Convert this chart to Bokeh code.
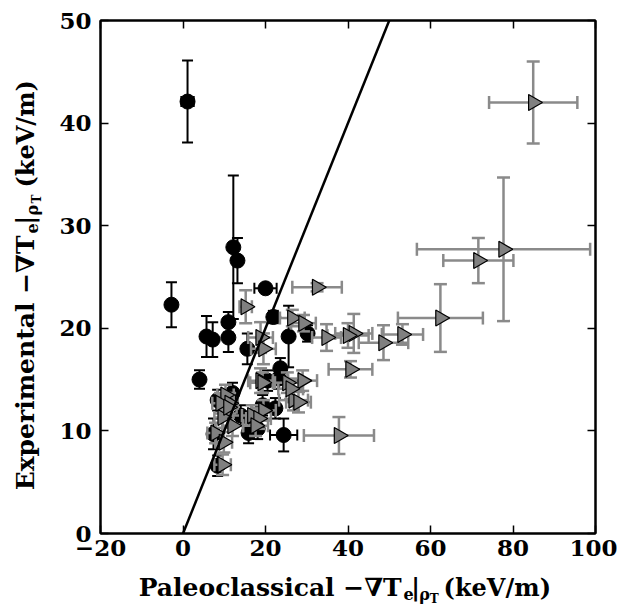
import numpy as np
from bokeh.plotting import figure
from bokeh.models import FixedTicker, LinearAxis, Range1d
from bokeh.layouts import row, column
from bokeh.core.properties import value
from bokeh.embed import file_html
from bokeh.resources import INLINE

# ---------------- data ----------------
x_ticks = [-20, 0, 20, 40, 60, 80, 100]
x_tick_labels = ["\u221220", "0", "20", "40", "60", "80", "100"]
y_ticks = [0, 10, 20, 30, 40, 50]
y_tick_labels = ["0", "10", "20", "30", "40", "50"]

# black circles
circ_x = [1.1, 12.2, 13.2, 20.0, -2.8, 5.7, 7.2, 11.0, 11.0, 21.9, 25.6, 30.2,
          4.0, 15.6, 23.6, 20.5, 12.0, 8.4, 7.4, 15.9, 24.4, 8.4, 18.1, 19.3,
          22.4, 14.0, 23.2]
circ_y = [42.1, 27.9, 26.6, 23.9, 22.3, 19.2, 18.9, 20.6, 19.1, 21.1, 19.2, 19.5,
          15.0, 18.0, 16.1, 14.9, 13.7, 13.0, 9.7, 9.8, 9.6, 6.6, 10.2, 12.5,
          12.2, 11.5, 15.1]
circ_xerr = [1.5, 0, 0, 2.7, 0, 0, 0, 0, 0, 0, 0, 0,
             0, 0, 0, 0, 0, 0, 0, 0, 3.3, 0, 0, 0,
             0, 0, 0]
circ_yerr = [4.0, 7.0, 2.2, 0.4, 2.2, 2.0, 1.7, 1.0, 1.4, 0.6, 3.0, 0.8,
             0.9, 1.5, 1.0, 1.0, 1.0, 1.0, 1.5, 1.0, 1.6, 1.0, 1.0, 1.0,
             1.0, 1.0, 1.0]

# grey right-pointing triangles
tri_x = [84.9, 77.7, 71.6, 32.5, 15.2, 26.5, 29.2, 62.4, 53.2, 48.6, 41.4, 40.0,
         34.8, 18.8, 19.5, 40.6, 18.8, 25.3, 29.0, 26.8, 26.1, 28.0, 37.8,
         10.3, 11.3, 9.6, 12.0, 7.9, 9.9, 9.6, 16.8, 19.5, 19.3, 18.3, 17.6,
         9.1, 11.0]
tri_y = [42.0, 27.7, 26.6, 24.0, 22.1, 21.0, 20.5, 21.0, 19.4, 18.6, 19.5, 19.3,
         19.1, 19.1, 18.0, 16.0, 14.9, 14.7, 14.9, 13.0, 14.1, 12.8, 9.55,
         13.5, 12.7, 11.3, 10.5, 9.8, 8.9, 6.7, 11.5, 12.0, 14.7, 11.2, 10.5,
         12.7, 12.3]
tri_xerr = [10.7, 21.0, 8.5, 6.0, 1.5, 3.0, 3.0, 10.3, 5.0, 6.0, 4.5, 5.0,
            3.5, 3.0, 3.0, 5.3, 3.0, 3.5, 3.5, 3.5, 3.0, 3.0, 8.5,
            2.0, 2.0, 2.0, 2.5, 2.0, 2.0, 2.0, 2.5, 3.0, 3.0, 3.0, 3.0,
            2.0, 2.0]
tri_yerr = [4.0, 7.0, 2.2, 0.4, 1.6, 0.8, 0.8, 3.3, 1.0, 1.7, 1.9, 1.2,
            1.3, 1.5, 1.5, 0.8, 1.2, 1.0, 1.0, 1.0, 1.0, 1.0, 1.8,
            1.0, 1.0, 1.0, 1.0, 1.0, 1.0, 1.0, 1.0, 1.0, 1.0, 1.0, 1.0,
            1.0, 1.0]

# y = x reference line
ref_line = [0, 50]

# axis title pieces
x_title = ["Paleoclassical \u2212\u2207T", "e", "|", "\u03c1", "T", "(keV/m)"]
y_title = ["Experimental \u2212\u2207T", "e", "|", "\u03c1", "T", "(keV/m)"]

FONT = "DejaVu Serif"

# ---------------- main figure ----------------
p = figure(width=567, height=569, x_range=Range1d(-20, 100), y_range=Range1d(0, 50),
           output_backend="svg", toolbar_location=None,
           min_border_left=50, min_border_right=22, min_border_top=20,
           min_border_bottom=36, background_fill_color="white",
           border_fill_color="white")
p.grid.visible = False
p.outline_line_color = "black"
p.outline_line_width = 2


def style_axis(ax, show_labels=True, standoff=8):
    ax.major_tick_in = 8
    ax.major_tick_out = 0
    ax.minor_tick_line_color = None
    ax.major_tick_line_width = 1.5
    ax.major_tick_line_color = "black"
    ax.axis_line_width = 2
    ax.axis_line_color = "black"
    if show_labels:
        ax.major_label_text_font = FONT
        ax.major_label_text_font_style = "bold"
        ax.major_label_text_font_size = "23px"
        ax.major_label_text_color = "black"
        ax.major_label_standoff = standoff
    else:
        ax.major_label_text_font_size = "0px"
        ax.major_label_standoff = 0


style_axis(p.xaxis[0], True, 6)
style_axis(p.yaxis[0], True, 9)
p.xaxis[0].ticker = FixedTicker(ticks=x_ticks)
p.yaxis[0].ticker = FixedTicker(ticks=y_ticks)
p.xaxis[0].major_label_overrides = {t: s for t, s in zip(x_ticks, x_tick_labels)}
p.yaxis[0].major_label_overrides = {t: s for t, s in zip(y_ticks, y_tick_labels)}

top_ax = LinearAxis(ticker=FixedTicker(ticks=x_ticks))
right_ax = LinearAxis(ticker=FixedTicker(ticks=y_ticks))
style_axis(top_ax, False)
style_axis(right_ax, False)
top_ax.major_label_overrides = {t: "" for t in x_ticks}
right_ax.major_label_overrides = {t: "" for t in y_ticks}
p.add_layout(top_ax, "above")
p.add_layout(right_ax, "right")

# ---------------- error bars + markers ----------------
cx = np.array(circ_x); cy = np.array(circ_y)
cxe = np.array(circ_xerr); cye = np.array(circ_yerr)
tx = np.array(tri_x); ty = np.array(tri_y)
txe = np.array(tri_xerr); tye = np.array(tri_yerr)

BLK = "black"
GRY = "#8a8a8a"

p.segment(cx, cy - cye, cx, cy + cye, line_color=BLK, line_width=2)
p.scatter(np.concatenate([cx, cx]), np.concatenate([cy - cye, cy + cye]),
          marker="dash", size=11, line_color=BLK, line_width=2)
m = cxe > 0
p.segment(cx[m] - cxe[m], cy[m], cx[m] + cxe[m], cy[m], line_color=BLK, line_width=2)
p.scatter(np.concatenate([cx[m] - cxe[m], cx[m] + cxe[m]]),
          np.concatenate([cy[m], cy[m]]),
          marker="dash", size=11, angle=np.pi / 2, line_color=BLK, line_width=2)
p.scatter(cx, cy, marker="circle", size=15, fill_color=BLK, line_color=BLK)

p.segment(tx, ty - tye, tx, ty + tye, line_color=GRY, line_width=2.5)
p.scatter(np.concatenate([tx, tx]), np.concatenate([ty - tye, ty + tye]),
          marker="dash", size=13, line_color=GRY, line_width=2.5)
p.segment(tx - txe, ty, tx + txe, ty, line_color=GRY, line_width=2.5)
p.scatter(np.concatenate([tx - txe, tx + txe]), np.concatenate([ty, ty]),
          marker="dash", size=13, angle=np.pi / 2, line_color=GRY, line_width=2.5)
p.scatter(tx, ty, marker="triangle", size=16, angle=-np.pi / 2,
          fill_color="#808080", line_color=BLK, line_width=1.2)

p.line(ref_line, ref_line, line_color=BLK, line_width=2.5)


# ---------------- title strips (pixel-unit figures) ----------------
def strip(w, h):
    f = figure(width=w, height=h, x_range=Range1d(0, w), y_range=Range1d(0, h),
               output_backend="svg", toolbar_location=None, min_border=0,
               background_fill_color="white", border_fill_color="white")
    f.axis.visible = False
    f.grid.visible = False
    f.outline_line_color = None
    return f


def piece(f, text, x, y, size, align="left", angle=0.0):
    f.text(x=[x], y=[y], text=[text], text_font=value(FONT), text_font_style="bold",
           text_font_size=f"{size}px", text_align=align, text_baseline="alphabetic",
           text_color="black", angle=angle)


xf = strip(567, 40)
piece(xf, x_title[0], 345, 22, 25, "right")
piece(xf, x_title[1], 347, 16, 16)
piece(xf, x_title[2], 356, 22, 24)
piece(xf, x_title[3], 365, 15, 16)
piece(xf, x_title[4], 377, 11, 12)
piece(xf, x_title[5], 393, 22, 24)

yf = strip(50, 609)
A = np.pi / 2
J = 374
piece(yf, y_title[0], 25, J, 25, "right", A)
piece(yf, y_title[1], 31, J + 2, 16, "left", A)
piece(yf, y_title[2], 25, J + 11, 24, "left", A)
piece(yf, y_title[3], 32, J + 20, 16, "left", A)
piece(yf, y_title[4], 36, J + 32, 12, "left", A)
piece(yf, y_title[5], 25, J + 48, 24, "left", A)

layout = row(yf, column(p, xf, spacing=0), spacing=0)
open("out.html", "w").write(file_html(layout, INLINE))
